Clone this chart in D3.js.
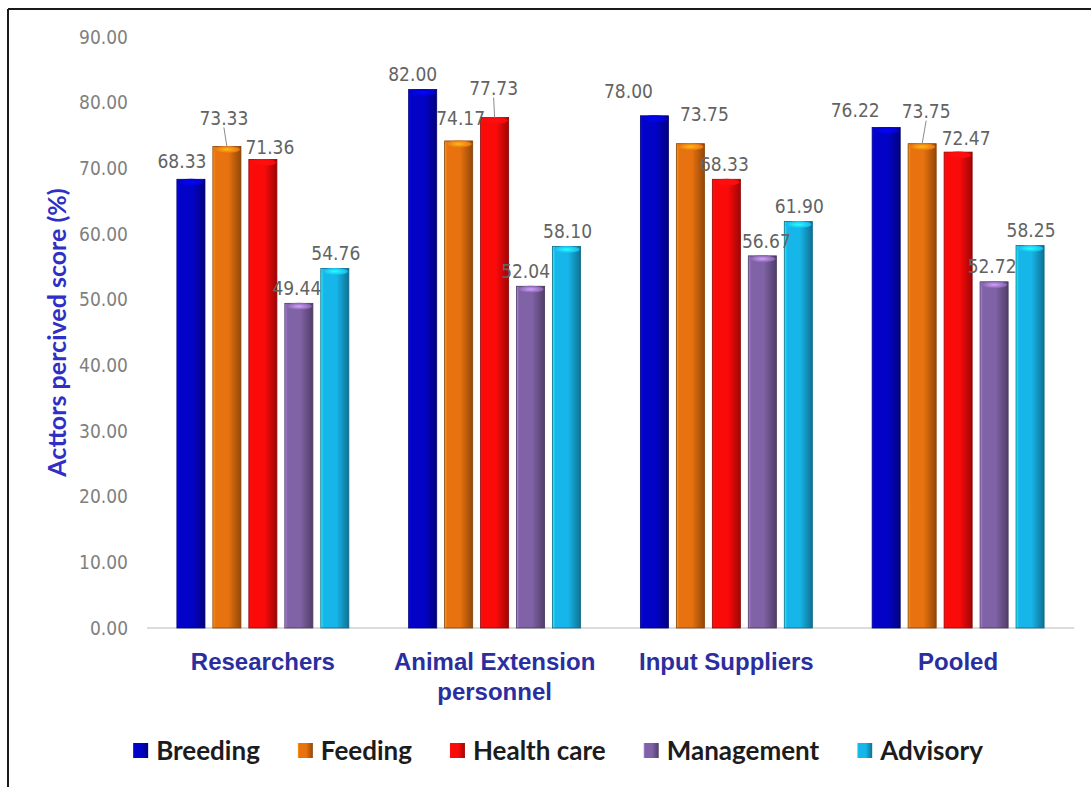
<!DOCTYPE html>
<html>
<head>
<meta charset="utf-8">
<script src="https://cdn.jsdelivr.net/npm/d3@7"></script>
<style>
    body { margin: 0; background: #fff; }
    svg { display: block; }
</style>
</head>
<body>
<svg id="chart" width="1091" height="787"></svg>
<script>
// data
const categories = ["Researchers", "Animal Extension|personnel", "Input Suppliers", "Pooled"];
const seriesNames = ["Breeding", "Feeding", "Health care", "Management", "Advisory"];
const breeding = [68.33, 82.00, 78.00, 76.22];
const feeding = [73.33, 74.17, 73.75, 73.75];
const healthCare = [71.36, 77.73, 68.33, 72.47];
const management = [49.44, 52.04, 56.67, 52.72];
const advisory = [54.76, 58.10, 61.90, 58.25];
const yTicks = [0, 10, 20, 30, 40, 50, 60, 70, 80, 90];

const seriesValues = [breeding, feeding, healthCare, management, advisory];
const colors = ["#0303c8", "#e8720f", "#fb0a0a", "#8062a6", "#17b6ea"];

// label nudges (dx, dy) per series / category, where excel moved them around
const labelNudge = [
    [[-9, -3], [-10, 0], [-26, -9], [-31, -2]],
    [[-3, -13], [2, -8], [14, -14], [4, -17]],
    [[7, 3], [-1, -14], [-2, 0], [8, 1]],
    [[-2, 0], [-5, 0], [4, 0], [-2, 0]],
    [[1, 0], [1, 0], [1, 0], [1, 0]]
];
const leaders = [[1, 0], [2, 1], [1, 3]]; // [series, category]

const svg = d3.select("#chart");

// frame (only top and left edge show)
svg.append("line").attr("x1", 8).attr("x2", 1091).attr("y1", 9).attr("y2", 9)
    .attr("stroke", "#1a1a1a").attr("stroke-width", 2);
svg.append("line").attr("x1", 8).attr("x2", 8).attr("y1", 9).attr("y2", 787)
    .attr("stroke", "#1a1a1a").attr("stroke-width", 2);

const y = d3.scaleLinear().domain([0, 90]).range([628, 37]);
const x0 = d3.scaleBand().domain(categories).range([147, 1074])
    .paddingInner(0.258).paddingOuter(0.129);
const x1 = d3.scaleBand().domain(seriesNames).range([0, x0.bandwidth()])
    .paddingInner(0.22).paddingOuter(0);

// gradients for the cylinder look
const defs = svg.append("defs");
colors.forEach(function (c, i) {
    const g = defs.append("linearGradient").attr("id", "grad" + i)
        .attr("x1", "0%").attr("x2", "100%").attr("y1", "0%").attr("y2", "0%");
    g.append("stop").attr("offset", "0%").attr("stop-color", d3.color(c).brighter(0.9));
    g.append("stop").attr("offset", "10%").attr("stop-color", c);
    g.append("stop").attr("offset", "55%").attr("stop-color", c);
    g.append("stop").attr("offset", "100%").attr("stop-color", d3.color(c).darker(1.3));
    const t = defs.append("radialGradient").attr("id", "top" + i);
    t.append("stop").attr("offset", "0%").attr("stop-color", d3.color(c).brighter(1.4));
    t.append("stop").attr("offset", "100%").attr("stop-color", c);
});

// y tick labels
svg.append("g").selectAll("text").data(yTicks).join("text")
    .attr("x", 128).attr("y", d => y(d)).attr("dy", "0.35em")
    .attr("text-anchor", "end")
    .attr("font-family", "DejaVu Sans Condensed").attr("font-size", 19)
    .attr("fill", "#808080")
    .text(d => d3.format(".2f")(d));

// baseline
svg.append("line").attr("x1", 147).attr("x2", 1074).attr("y1", y(0)).attr("y2", y(0))
    .attr("stroke", "#d0d0d0").attr("stroke-width", 1.5);

// y title
svg.append("text")
    .attr("transform", "translate(57," + ((y(0) + y(90)) / 2) + ") rotate(-90)")
    .attr("text-anchor", "middle").attr("dy", "0.35em")
    .attr("font-family", "Lato").attr("font-weight", "bold").attr("font-size", 25)
    .attr("fill", "#2f2fc6")
    .text("Acttors percived score (%)");

// bars
const barData = [];
seriesValues.forEach(function (vals, s) {
    vals.forEach(function (v, c) {
        barData.push({s: s, c: c, v: v});
    });
});

function barX(d) {
    return x0(categories[d.c]) + x1(seriesNames[d.s]);
}

const bars = svg.append("g").selectAll("g").data(barData).join("g");
bars.append("rect")
    .attr("x", barX)
    .attr("y", d => y(d.v))
    .attr("width", x1.bandwidth())
    .attr("height", d => y(0) - y(d.v))
    .attr("fill", d => "url(#grad" + d.s + ")")
    .attr("stroke", d => d3.color(colors[d.s]).darker(1.6))
    .attr("stroke-width", 0.8);
bars.append("ellipse")
    .attr("cx", d => barX(d) + x1.bandwidth() / 2)
    .attr("cy", d => y(d.v) + 3)
    .attr("rx", x1.bandwidth() / 2 - 1)
    .attr("ry", 3.5)
    .attr("fill", d => "url(#top" + d.s + ")");

// value labels
function labelPos(d) {
    const n = labelNudge[d.s][d.c];
    return [barX(d) + x1.bandwidth() / 2 + n[0], y(d.v) - 15 + n[1]];
}

svg.append("g").selectAll("line").data(leaders).join("line")
    .attr("x1", d => labelPos({s: d[0], c: d[1], v: seriesValues[d[0]][d[1]]})[0])
    .attr("y1", d => labelPos({s: d[0], c: d[1], v: seriesValues[d[0]][d[1]]})[1] + 9)
    .attr("x2", d => barX({s: d[0], c: d[1]}) + x1.bandwidth() / 2)
    .attr("y2", d => y(seriesValues[d[0]][d[1]]))
    .attr("stroke", "#8a8a8a").attr("stroke-width", 1);

svg.append("g").selectAll("text").data(barData).join("text")
    .attr("x", d => labelPos(d)[0])
    .attr("y", d => labelPos(d)[1])
    .attr("dy", "0.35em")
    .attr("text-anchor", "middle")
    .attr("font-family", "DejaVu Sans Condensed").attr("font-size", 19)
    .attr("fill", "#636363")
    .text(d => d3.format(".2f")(d.v));

// category labels
const catLabels = svg.append("g").selectAll("text").data(categories).join("text")
    .attr("x", d => x0(d) + x0.bandwidth() / 2)
    .attr("y", 662)
    .attr("text-anchor", "middle")
    .attr("font-family", "Liberation Sans").attr("font-weight", "bold").attr("font-size", 24)
    .attr("fill", "#2b2e9e");
catLabels.selectAll("tspan").data(d => d.split("|").map((t, i) => ({t: t, i: i}))).join("tspan")
    .attr("x", function () { return d3.select(this.parentNode).attr("x"); })
    .attr("dy", d => d.i === 0 ? "0.35em" : 30)
    .text(d => d.t);

// legend
const legend = svg.append("g");
const items = legend.selectAll("g").data(seriesNames).join("g");
items.append("text")
    .attr("x", 23).attr("y", 751).attr("dy", "0.35em")
    .attr("font-family", "Lato").attr("font-weight", "bold").attr("font-size", 26)
    .attr("fill", "#1c1c1c")
    .text(d => d);
items.append("rect")
    .attr("x", 0).attr("y", 743).attr("width", 15).attr("height", 15)
    .attr("fill", (d, i) => "url(#grad" + i + ")");

let lx = 0;
const offs = [];
items.each(function () {
    offs.push(lx);
    lx += 23 + d3.select(this).select("text").node().getComputedTextLength() + 38;
});
const start = 558 - (lx - 38) / 2;
items.attr("transform", (d, i) => "translate(" + (start + offs[i]) + ",0)");
</script>
</body>
</html>
